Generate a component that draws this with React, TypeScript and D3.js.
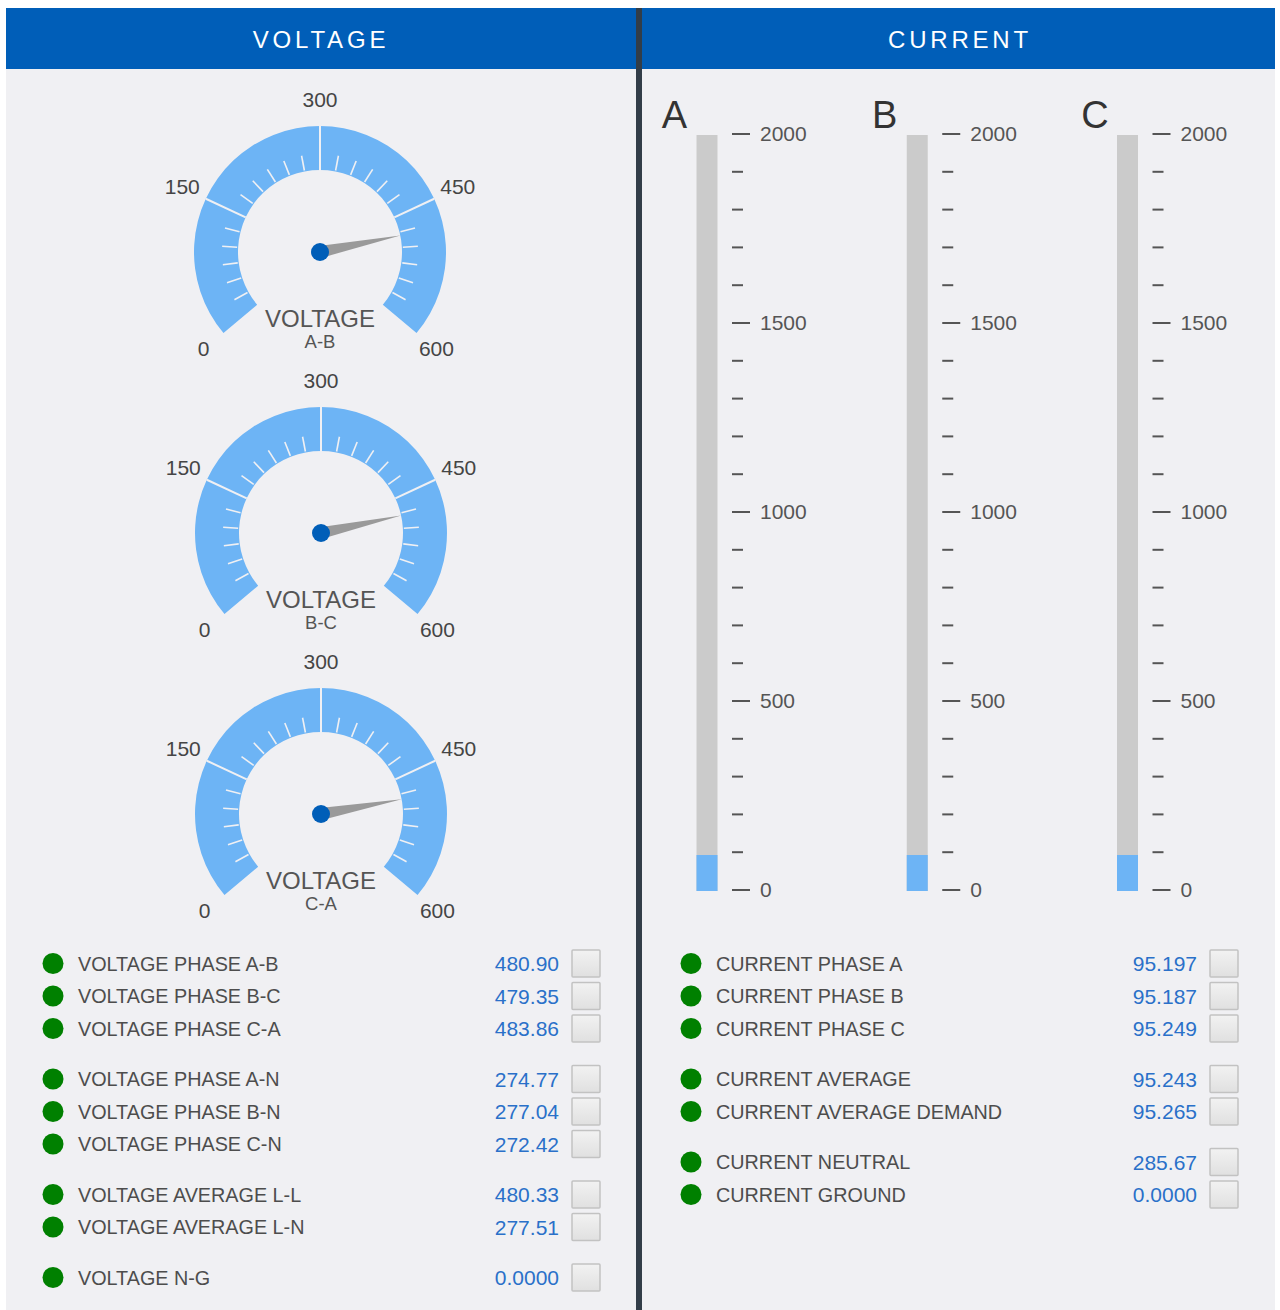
import React from 'react';
import * as d3 from 'd3';

// gauge data (voltage)
const gaugeNames = ['A-B', 'B-C', 'C-A'];
const gaugeValues = [480.9, 479.35, 483.86];
const gaugeTicks = [0, 150, 300, 450, 600];

// bar data (current)
const barNames = ['A', 'B', 'C'];
const barValues = [95.197, 95.187, 95.249];
const barTicks = [0, 500, 1000, 1500, 2000];

// readouts
const voltageLabels = [
  'VOLTAGE PHASE A-B', 'VOLTAGE PHASE B-C', 'VOLTAGE PHASE C-A',
  'VOLTAGE PHASE A-N', 'VOLTAGE PHASE B-N', 'VOLTAGE PHASE C-N',
  'VOLTAGE AVERAGE L-L', 'VOLTAGE AVERAGE L-N',
  'VOLTAGE N-G',
];
const voltageValues = ['480.90', '479.35', '483.86', '274.77', '277.04', '272.42', '480.33', '277.51', '0.0000'];
const voltageGroups = [0, 0, 0, 1, 1, 1, 2, 2, 3];

const currentLabels = [
  'CURRENT PHASE A', 'CURRENT PHASE B', 'CURRENT PHASE C',
  'CURRENT AVERAGE', 'CURRENT AVERAGE DEMAND',
  'CURRENT NEUTRAL', 'CURRENT GROUND',
];
const currentValues = ['95.197', '95.187', '95.249', '95.243', '95.265', '285.67', '0.0000'];
const currentGroups = [0, 0, 0, 1, 1, 2, 2];

const W = 1280;
const H = 1310;
const FONT = '"Liberation Sans", Arial, sans-serif';
const BG = '#f0f0f3';
const HEADER = '#005eb8';
const LIGHT_BLUE = '#6db4f5';
const TEXT = '#4d4d4d';
const VALUE = '#2a70c9';

const rad = (deg: number) => (deg * Math.PI) / 180;
const pt = (r: number, deg: number): [number, number] => [r * Math.sin(rad(deg)), -r * Math.cos(rad(deg))];

function Gauge({ cx, cy, name, value }: { cx: number; cy: number; name: string; value: number }) {
  const inner = 82;
  const outer = 126;
  const angle = d3.scaleLinear().domain([0, 600]).range([-130, 130]);
  const arc = d3.arc()({
    innerRadius: inner,
    outerRadius: outer,
    startAngle: rad(-130),
    endAngle: rad(130),
  } as any) as string;
  const minor = d3.range(0, 601, 25).filter((v) => v % 150 !== 0);
  const a = angle(value);
  const tip = pt(inner, a);
  const b1 = pt(6, a - 90);
  const b2 = pt(6, a + 90);
  return (
    <g transform={`translate(${cx},${cy})`}>
      <path d={arc} fill={LIGHT_BLUE} />
      {minor.map((v) => {
        const [x1, y1] = pt(inner + 1, angle(v));
        const [x2, y2] = pt(98, angle(v));
        return <line key={v} x1={x1} y1={y1} x2={x2} y2={y2} stroke={BG} strokeWidth={1.6} />;
      })}
      {gaugeTicks.slice(1, -1).map((v) => {
        const [x1, y1] = pt(inner, angle(v));
        const [x2, y2] = pt(outer, angle(v));
        return <line key={v} x1={x1} y1={y1} x2={x2} y2={y2} stroke={BG} strokeWidth={2} />;
      })}
      {gaugeTicks.map((v) => {
        const [x, y] = pt(152, angle(v));
        return (
          <text key={v} x={x} y={y - 1} textAnchor="middle" dominantBaseline="central" fontSize={21} fill="#454545">
            {v}
          </text>
        );
      })}
      <polygon points={`${tip[0]},${tip[1]} ${b1[0]},${b1[1]} ${b2[0]},${b2[1]}`} fill="#9a9a9a" />
      <circle r={9} fill={HEADER} />
      <text y={66} textAnchor="middle" dominantBaseline="central" fontSize={24} fill="#555">VOLTAGE</text>
      <text y={89} textAnchor="middle" dominantBaseline="central" fontSize={18.5} fill="#555">{name}</text>
    </g>
  );
}

function Bar({ x, name, value }: { x: number; name: string; value: number }) {
  const y = d3.scaleLinear().domain([0, 2000]).range([890, 134]);
  const minor = d3.range(0, 2001, 100).filter((v) => v % 500 !== 0);
  const bw = 21;
  const tx = x + 35.5;
  return (
    <g>
      <text x={x - 22} y={128} textAnchor="middle" fontSize={38} fill="#333">{name}</text>
      <rect x={x} y={y(2000) + 1} width={bw} height={y(0) - y(2000)} fill="#cbcbcb" />
      <rect x={x} y={y(value) + 1} width={bw} height={y(0) - y(value)} fill={LIGHT_BLUE} />
      {minor.map((v) => (
        <line key={v} x1={tx} x2={tx + 11} y1={y(v)} y2={y(v)} stroke="#555" strokeWidth={2} />
      ))}
      {barTicks.map((v) => (
        <g key={v}>
          <line x1={tx} x2={tx + 18} y1={y(v)} y2={y(v)} stroke="#555" strokeWidth={2} />
          <text x={tx + 28} y={y(v) - 1} dominantBaseline="central" fontSize={21} fill="#555">{v}</text>
        </g>
      ))}
    </g>
  );
}

function Readouts({ labels, values, groups, dotX, valueX }: {
  labels: string[]; values: string[]; groups: number[]; dotX: number; valueX: number;
}) {
  return (
    <g>
      {labels.map((label, i) => {
        const cy = 963.5 + i * 32.5 + groups[i] * 18;
        return (
          <g key={label}>
            <circle cx={dotX} cy={cy} r={10.5} fill="#008000" />
            <text x={dotX + 25} y={cy} dominantBaseline="central" fontSize={19.8} fill={TEXT}>{label}</text>
            <text x={valueX} y={cy} textAnchor="end" dominantBaseline="central" fontSize={21} fill={VALUE}>{values[i]}</text>
            <rect x={valueX + 13} y={cy - 13.5} width={28} height={27} rx={1} fill="url(#chk)" stroke="#c2c2c2" strokeWidth={1.5} />
          </g>
        );
      })}
    </g>
  );
}

export default function App() {
  const gaugeY = d3.scaleLinear().domain([0, 2]).range([252, 814]);
  const barX = d3.scaleLinear().domain([0, 2]).range([696.5, 1117]);
  return (
    <div style={{ position: 'absolute', left: 0, top: 0 }}>
      <svg width={W} height={H} style={{ display: 'block', fontFamily: FONT }}>
        <defs>
          <linearGradient id="chk" x1="0" y1="0" x2="0" y2="1">
            <stop offset="0" stopColor="#f2f2f2" />
            <stop offset="1" stopColor="#e0e0e0" />
          </linearGradient>
        </defs>
        <rect width={W} height={H} fill="#fff" />
        <rect x={6} y={8} width={630} height={H - 8} fill={BG} />
        <rect x={642} y={8} width={633} height={H - 8} fill={BG} />
        <rect x={6} y={8} width={630} height={61} fill={HEADER} />
        <rect x={642} y={8} width={633} height={61} fill={HEADER} />
        <rect x={636} y={8} width={6} height={H - 8} fill="#323d48" />
        <text x={321} y={39} textAnchor="middle" dominantBaseline="central" fontSize={24} letterSpacing={3.8} fill="#fff">VOLTAGE</text>
        <text x={960} y={39} textAnchor="middle" dominantBaseline="central" fontSize={24} letterSpacing={3.8} fill="#fff">CURRENT</text>

        {gaugeNames.map((n, i) => (
          <Gauge key={n} cx={i === 0 ? 320 : 321} cy={gaugeY(i)} name={n} value={gaugeValues[i]} />
        ))}

        {barNames.map((n, i) => (
          <Bar key={n} x={barX(i)} name={n} value={barValues[i]} />
        ))}

        <Readouts labels={voltageLabels} values={voltageValues} groups={voltageGroups} dotX={53} valueX={559} />
        <Readouts labels={currentLabels} values={currentValues} groups={currentGroups} dotX={691} valueX={1197} />
      </svg>
    </div>
  );
}
